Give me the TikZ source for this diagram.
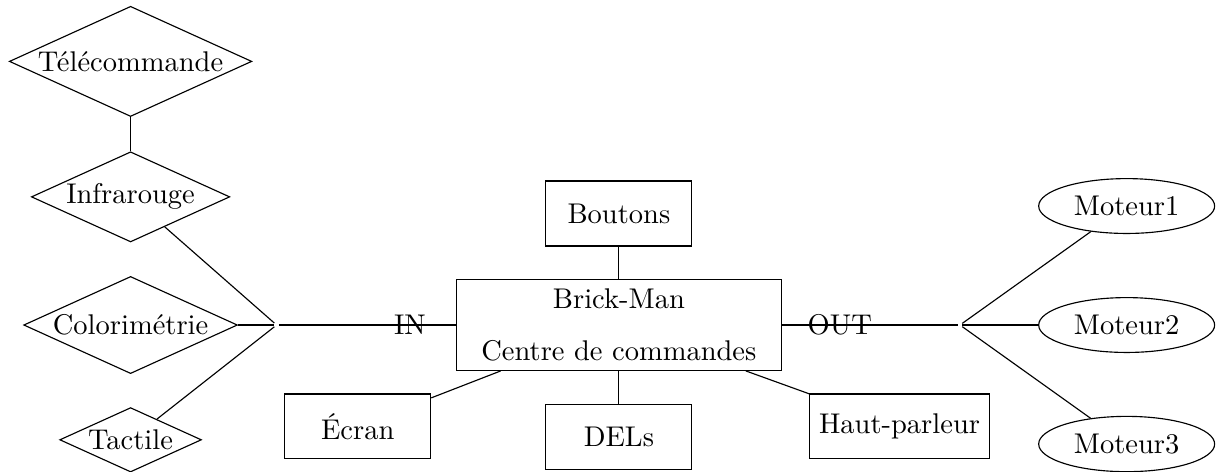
\documentclass[tikz,border=0pt]{standalone}
\usepackage{tikz}
\usetikzlibrary{shapes.geometric}

\begin{document}
\begin{tikzpicture}[
    boite/.style={draw, minimum width=1.8cm, minimum height=0.8cm},
    capteur/.style={draw, diamond, aspect=2.2, inner sep=0.7pt},
    moteur/.style={draw, ellipse},
    jonction/.style={inner sep=0.6pt}]
        \useasboundingbox (-7.63,-1.80) rectangle (7.386,4.007);
        \node[draw, minimum width=4cm, align=center] (centre) at (0,0) {Brick-Man\\[6pt]Centre de commandes};
        \node[boite] (boutons) at (0,1.375) {Boutons};
        \node[boite] (dels) at (0,-1.38) {DELs};
        \node[boite] (ecran) at (-3.22,-1.25) {Écran};
        \node[boite] (hp) at (3.46,-1.25) {Haut-parleur};
        \node[capteur] (telecom) at (-6.02,3.25) {Télécommande};
        \node[capteur] (infra) at (-6.02,1.58) {Infrarouge};
        \node[capteur] (colori) at (-6.02,0) {Colorimétrie};
        \node[capteur] (tactile) at (-6.02,-1.415) {Tactile};
        \node[jonction] (jin) at (-4.22,0) {};
        \node[jonction] (jout) at (4.205,0) {};
        \node[moteur] (mot1) at (6.26,1.467) {Moteur1};
        \node[moteur] (mot2) at (6.26,0) {Moteur2};
        \node[moteur] (mot3) at (6.26,-1.467) {Moteur3};
        \draw (boutons) -- (centre);
        \draw (centre) -- (dels);
        \draw (centre) -- (ecran);
        \draw (centre) -- (hp);
        \draw (telecom) -- (infra);
        \draw (infra) -- (jin);
        \draw (colori) -- (jin);
        \draw (tactile) -- (jin);
        \draw (jin) -- node[pos=0.74] {IN} (centre);
        \draw (centre) -- node[pos=0.33] {OUT} (jout);
        \draw (jout) -- (mot1);
        \draw (jout) -- (mot2);
        \draw (jout) -- (mot3);
      \end{tikzpicture}
\end{document}
